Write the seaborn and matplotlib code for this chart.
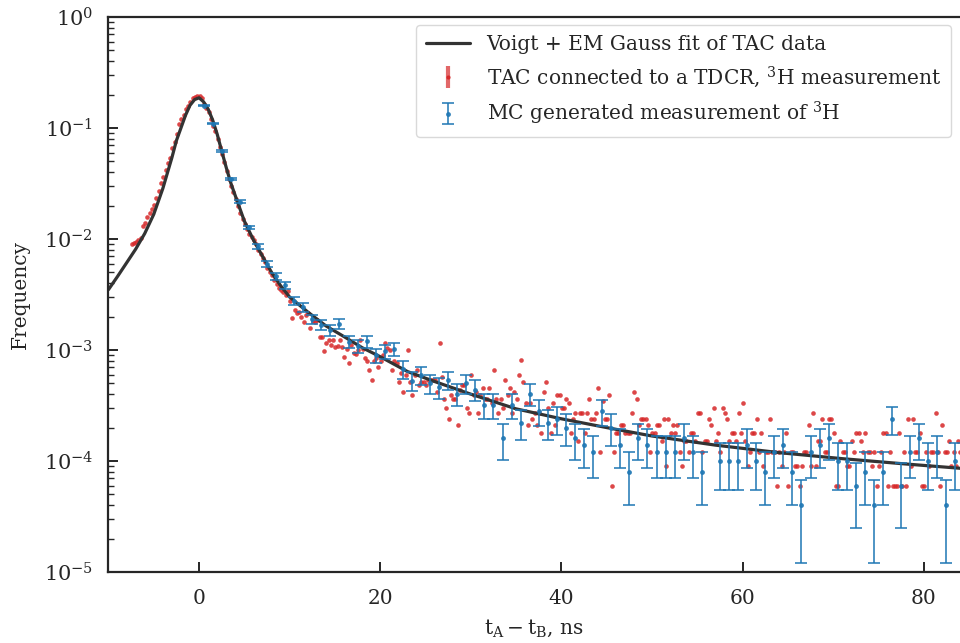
import numpy as np
import matplotlib
matplotlib.use("Agg")
from matplotlib import pyplot as plt
from matplotlib.lines import Line2D
from matplotlib.legend_handler import HandlerTuple
import seaborn as sns

# Voigt + EM Gauss fit
fit_x = [-10, -9, -8, -7, -6, -5, -4, -3, -2.5, -2, -1.5, -1, -0.5, 0, 0.5, 1, 1.5, 2,
         2.5, 3, 3.5, 4, 5, 6, 7, 8, 9, 10, 12, 14, 16, 18, 20, 23, 26, 30, 35, 40,
         45, 50, 57, 64, 71, 78, 84]
fit_y = [3.5e-3, 4.6e-3, 6.1e-3, 8.1e-3, 0.0112, 0.0167, 0.0285, 0.054, 0.077, 0.100,
         0.130, 0.160, 0.180, 0.187, 0.172, 0.148, 0.118, 0.088, 0.062, 0.044, 0.032,
         0.0245, 0.0145, 9.8e-3, 7.0e-3, 5.0e-3, 3.8e-3, 3.0e-3, 2.2e-3, 1.65e-3,
         1.32e-3, 1.05e-3, 8.7e-4, 6.4e-4, 5.2e-4, 4.0e-4, 2.95e-4, 2.4e-4, 2.0e-4,
         1.68e-4, 1.39e-4, 1.19e-4, 1.05e-4, 9.4e-5, 8.6e-5]

# TAC measurement, one value per 0.25 ns channel starting at -7.45 ns
tac_start, tac_step = -7.45, 0.25
tac_y = [
    9.1e-3, 9.2e-3, 9.4e-3, 9.8e-3, 0.0103, 0.0130, 0.0140, 0.0158, 0.0170, 0.0185, 0.0202, 0.0235, 0.0270, 0.0318, 0.0360, 0.0415,
    0.0480, 0.0540, 0.0660, 0.0740, 0.0880, 0.108, 0.120, 0.132, 0.148, 0.158, 0.170, 0.185, 0.192, 0.195, 0.194, 0.188,
    0.165, 0.150, 0.138, 0.120, 0.105, 0.093, 0.079, 0.067, 0.058, 0.049, 0.041, 0.035, 0.030, 0.0265, 0.0228, 0.0198,
    0.0170, 0.0150, 0.0136, 0.0122, 0.0112, 0.0104, 9.7e-3, 9.0e-3, 8.0e-3, 7.3e-3, 6.8e-3, 6.2e-3, 5.5e-3, 5.0e-3, 4.7e-3, 4.3e-3,
    3.9e-3, 3.6e-3, 3.45e-3, 3.35e-3, 3.15e-3, 3.4e-3, 2.75e-3, 1.95e-3, 2.3e-3, 2.15e-3, 2.2e-3, 2.0e-3, 1.8e-3, 2.05e-3, 2.15e-3, 1.57e-3,
    1.84e-3, 1.80e-3, 1.86e-3, 1.32e-3, 1.30e-3, 9.7e-4, 1.15e-3, 1.23e-3, 1.10e-3, 1.23e-3, 1.07e-3, 1.08e-3, 1.23e-3, 1.07e-3, 8.7e-4, 1.03e-3,
    7.6e-4, 1.1e-3, 9.3e-4, 9.2e-4, 1.0e-3, 1.23e-3, 1.03e-3, 8.4e-4, 7.9e-4, 6.6e-4, 5.4e-4, 7.9e-4, 8.4e-4, 7.1e-4, 8.0e-4, 9.0e-4,
    1.15e-3, 1.05e-3, 1.0e-3, 6.6e-4, 7.9e-4, 7.6e-4, 5.1e-4, 6.2e-4, 4.2e-4, 6.0e-4, 9.9e-4, 5.1e-4, 3.9e-4, 6.0e-4, 6.6e-4, 4.8e-4,
    5.1e-4, 5.2e-4, 4.8e-4, 5.4e-4, 5.4e-4, 5.4e-4, 5.4e-4, 4.2e-4, 1.16e-3, 5.7e-4, 3.6e-4, 3.0e-4, 2.4e-4, 3.9e-4, 3.6e-4, 3.6e-4,
    2.1e-4, 4.4e-4, 4.8e-4, 4.8e-4, 3.0e-4, 2.7e-4, 6.0e-4, 3.9e-4, 4.2e-4, 2.7e-4, 3.9e-4, 4.5e-4, 3.6e-4, 3.6e-4, 4.5e-4, 3.3e-4,
    6.6e-4, 3.6e-4, 2.7e-4, 3.6e-4, 3.0e-4, 5.4e-4, 3.9e-4, 4.5e-4, 2.7e-4, 4.2e-4, 3.6e-4, 6.0e-4, 8.1e-4, 5.1e-4, 3.3e-4, 2.1e-4,
    3.3e-4, 2.4e-4, 2.7e-4, 2.1e-4, 2.7e-4, 1.8e-4, 4.2e-4, 5.1e-4, 3.0e-4, 1.8e-4, 3.3e-4, 2.1e-4, 3.9e-4, 3.9e-4, 3.0e-4, 3.0e-4,
    3.6e-4, 3.3e-4, 1.8e-4, 2.4e-4, 2.7e-4, 1.5e-4, 2.7e-4, 2.7e-4, 1.8e-4, 2.7e-4, 3.6e-4, 2.4e-4, 2.4e-4, 2.7e-4, 4.5e-4, 1.2e-4,
    3.5e-4, 2.4e-4, 2.4e-4, 3.9e-4, 6e-5, 1.2e-4, 1.8e-4, 1.8e-4, 2.1e-4, 2.1e-4, 1.8e-4, 1.8e-4, 1.8e-4, 2.7e-4, 4.2e-4, 3.6e-4,
    2.1e-4, 2.4e-4, 2.4e-4, 2.4e-4, 2.1e-4, 1.2e-4, 1.8e-4, 1.8e-4, 2.1e-4, 2.1e-4, 1.5e-4, 2.4e-4, 9e-5, 2.4e-4, 1.8e-4, 2.1e-4,
    1.8e-4, 2.1e-4, 1.2e-4, 9e-5, 1.5e-4, 1.5e-4, 1.2e-4, 1.8e-4, 1.8e-4, 1.5e-4, 2.7e-4, 2.7e-4, 1.2e-4, 1.5e-4, 1.5e-4, 2.4e-4,
    2.1e-4, 3.0e-4, 1.5e-4, 1.8e-4, 1.2e-4, 3.0e-4, 2.7e-4, 2.4e-4, 1.5e-4, 1.8e-4, 1.8e-4, 1.5e-4, 2.7e-4, 1.8e-4, 3.3e-4, 1.5e-4,
    9e-5, 1.2e-4, 1.8e-4, 1.8e-4, 2.4e-4, 1.2e-4, 1.8e-4, 9e-5, 1.2e-4, 1.2e-4, 2.4e-4, 1.2e-4, 1.2e-4, 6e-5, 1.2e-4, 9e-5,
    1.2e-4, 1.8e-4, 6e-5, 1.2e-4, 1.2e-4, 9e-5, 9e-5, 6e-5, 9e-5, 1.2e-4, 1.2e-4, 2.1e-4, 9e-5, 2.7e-4, 9e-5, 1.5e-4,
    1.5e-4, 2.4e-4, 1.2e-4, 1.2e-4, 2.4e-4, 2.4e-4, 1.8e-4, 6e-5, 6e-5, 1.5e-4, 1.2e-4, 1.2e-4, 9e-5, 9e-5, 1.5e-4, 1.2e-4,
    1.8e-4, 1.8e-4, 1.5e-4, 1.2e-4, 1.8e-4, 1.2e-4, 1.2e-4, 9e-5, 1.2e-4, 6e-5, 9e-5, 1.2e-4, 1.8e-4, 1.8e-4, 6e-5, 1.2e-4,
    6e-5, 6e-5, 6e-5, 1.8e-4, 6e-5, 1.2e-4, 6e-5, 2.4e-4, 9e-5, 2.4e-4, 1.2e-4, 1.2e-4, 1.8e-4, 6e-5, 6e-5, 1.2e-4,
    9e-5, 1.2e-4, 1.2e-4, 2.7e-4, 1.2e-4, 6e-5, 2.1e-4, 1.2e-4, 1.2e-4, 1.5e-4, 9e-5, 1.2e-4, 9e-5, 1.5e-4, 1.2e-4,
]
tac_x = tac_start + tac_step * np.arange(len(tac_y))

# MC generated measurement, 1 ns bins centred at 0.5, 1.5, ...
mc_y = [0.158, 0.109, 0.062, 0.0345, 0.0216, 0.0127, 8.6e-3, 6.0e-3, 4.6e-3, 3.85e-3,
        2.76e-3, 2.43e-3, 1.89e-3, 1.68e-3, 1.51e-3, 1.71e-3, 1.19e-3, 1.09e-3, 1.2e-3, 9.0e-4,
        9.7e-4, 1.02e-3, 6.7e-4, 5.3e-4, 5.9e-4, 5.0e-4, 4.6e-4, 5.4e-4, 4.0e-4, 5.0e-4,
        4.4e-4, 3.2e-4, 3.2e-4, 1.6e-4, 3.2e-4, 2.2e-4, 4.0e-4, 2.8e-4, 2.2e-4, 2.4e-4,
        2.0e-4, 1.6e-4, 1.4e-4, 1.2e-4, 2.8e-4, 2.0e-4, 1.4e-4, 8e-5, 1.6e-4, 1.4e-4,
        1.2e-4, 1.2e-4, 1.2e-4, 1.6e-4, 1.2e-4, 8e-5, np.nan, 1.0e-4, 1.0e-4, 1.0e-4,
        1.4e-4, 1.0e-4, 8e-5, 1.2e-4, 1.4e-4, 8e-5, 4e-5, 1.2e-4, 1.4e-4, 1.6e-4,
        1.0e-4, 1.0e-4, 6e-5, 8e-5, 4e-5, 8e-5, 2.4e-4, 6e-5, 1.2e-4, 1.6e-4,
        1.0e-4, 1.2e-4, 4e-5, 1.0e-4]
mc_err = [1.8e-3, 1.5e-3, 1.1e-3, 8.3e-4, 6.6e-4, 5.0e-4, 4.1e-4, 3.5e-4, 3.0e-4, 2.8e-4,
          2.3e-4, 2.2e-4, 1.9e-4, 1.8e-4, 1.7e-4, 1.8e-4, 1.5e-4, 1.5e-4, 1.5e-4, 1.3e-4,
          1.4e-4, 1.4e-4, 1.2e-4, 1.0e-4, 1.1e-4, 1.0e-4, 9.6e-5, 1.0e-4, 8.9e-5, 1.0e-4,
          9.4e-5, 8.0e-5, 8.0e-5, 5.7e-5, 8.0e-5, 6.6e-5, 8.9e-5, 7.5e-5, 6.6e-5, 6.9e-5,
          6.3e-5, 5.7e-5, 5.3e-5, 4.9e-5, 7.5e-5, 6.3e-5, 5.3e-5, 4.0e-5, 5.7e-5, 5.3e-5,
          4.9e-5, 4.9e-5, 4.9e-5, 5.7e-5, 4.9e-5, 4.0e-5, np.nan, 4.5e-5, 4.5e-5, 4.5e-5,
          5.3e-5, 4.5e-5, 4.0e-5, 4.9e-5, 5.3e-5, 4.0e-5, 2.8e-5, 4.9e-5, 5.3e-5, 5.7e-5,
          4.5e-5, 4.5e-5, 3.5e-5, 4.0e-5, 2.8e-5, 4.0e-5, 6.9e-5, 3.5e-5, 4.9e-5, 5.7e-5,
          4.5e-5, 4.9e-5, 2.8e-5, 4.5e-5]
mc_x = 0.5 + np.arange(len(mc_y))

sns.set_theme(style="ticks", rc={
    "axes.linewidth": 1.6,
    "xtick.direction": "in", "ytick.direction": "in",
    "xtick.major.size": 7, "ytick.major.size": 7,
    "xtick.major.width": 1.4, "ytick.major.width": 1.4,
    "ytick.minor.size": 4, "ytick.minor.width": 1.0,
    "mathtext.fontset": "dejavuserif",
})
plt.rcParams["font.family"] = ["DejaVu Serif"]
plt.rcParams["font.size"] = 14

fig = plt.figure(figsize=(9.6, 6.43), dpi=100)
ax = fig.add_axes([0.113, 0.1104, 0.887, 0.8632])

red = "#d62728"
blue = "#1f77b4"

sns.scatterplot(x=tac_x, y=tac_y, ax=ax, color=red, s=11, linewidth=0, alpha=0.85,
                zorder=1, legend=False)
sns.lineplot(x=fit_x, y=fit_y, ax=ax, color="#333333", linewidth=2.3, estimator=None,
             sort=False, zorder=2, legend=False)
mc = ax.errorbar(mc_x, mc_y, yerr=mc_err, fmt=".", color=blue, ms=5, capsize=4,
                 elinewidth=1.3, capthick=1.3, alpha=0.85, zorder=3)

ax.set_yscale("log")
ax.set_xlim(-10, 84)
ax.set_ylim(1e-5, 1)
ax.set_xticks([0, 20, 40, 60, 80])
ax.tick_params(axis="x", labelsize=14.5, pad=12)
ax.tick_params(axis="y", labelsize=15, pad=11)
ax.spines["right"].set_visible(False)
ax.set_xlabel(r"$\mathrm{t_A - t_B}$, ns", fontsize=14.5, labelpad=7)
ax.set_ylabel("Frequency", fontsize=14.5, labelpad=10)

fit_handle = Line2D([], [], color="#333333", linewidth=2.3)
tac_handle = (Line2D([], [], color=red, marker="|", linestyle="none", ms=16, mew=3, alpha=0.7),
              Line2D([], [], color=red, marker=".", linestyle="none", ms=4, alpha=0.9))
ax.legend([fit_handle, tac_handle, mc],
          ["Voigt + EM Gauss fit of TAC data",
           r"TAC connected to a TDCR, $^3$H measurement",
           r"MC generated measurement of $^3$H"],
          handler_map={tuple: HandlerTuple(ndivide=1, pad=0)},
          loc="upper right", fontsize=14.5, frameon=True, fancybox=True,
          edgecolor="#d0d0d0", borderpad=0.5, labelspacing=0.5, handlelength=2.2,
          borderaxespad=0, bbox_to_anchor=(0.99, 0.985))

fig.savefig("out.png", dpi=100)
